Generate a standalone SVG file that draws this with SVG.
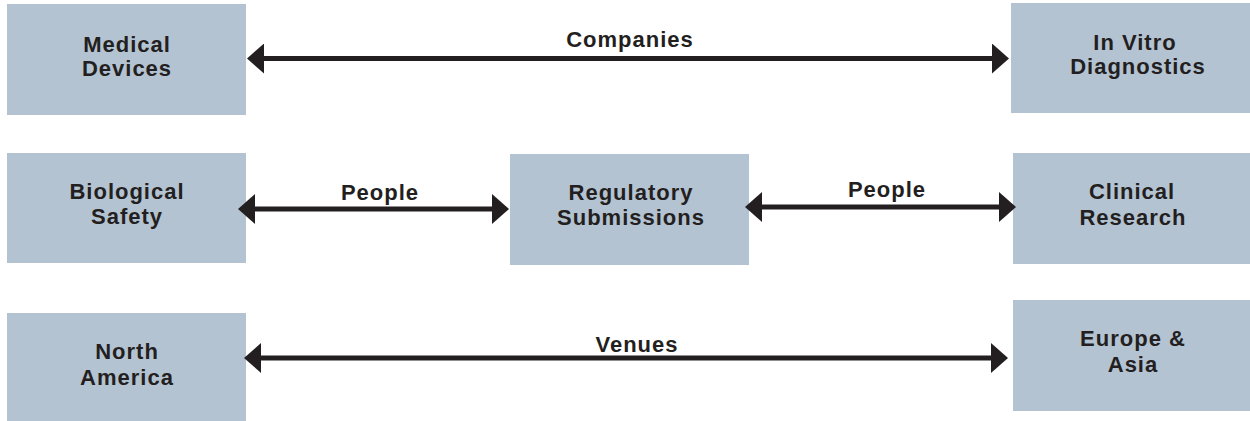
<svg xmlns="http://www.w3.org/2000/svg" width="1250" height="421" viewBox="0 0 1250 421">
<style>
.box{fill:#b4c3d2;}
.t{font-family:"Liberation Sans",Arial,sans-serif;font-weight:bold;font-size:22px;letter-spacing:1px;fill:#231f20;text-anchor:middle;}
.ln{stroke:#231f20;stroke-width:5;fill:none;}
</style>
<defs>
<marker id="ah" viewBox="0 0 17 30" refX="1" refY="15" markerWidth="17" markerHeight="30" markerUnits="userSpaceOnUse" orient="auto-start-reverse">
<path d="M0,0 L17,15 L0,30 Z" fill="#231f20"/>
</marker>
</defs>
<rect width="1250" height="421" fill="#ffffff"/>
<g id="medical-devices"><rect class="box" x="7" y="4" width="239" height="111"/><text class="t" x="127" y="51.5">Medical</text><text class="t" x="127" y="75.5">Devices</text></g>
<g id="in-vitro"><rect class="box" x="1011" y="3" width="239" height="110"/><text class="t" x="1135" y="49.5">In Vitro</text><text class="t" x="1138" y="73.5">Diagnostics</text></g>
<g id="biological-safety"><rect class="box" x="7" y="153" width="239" height="110"/><text class="t" x="127" y="199">Biological</text><text class="t" x="127" y="223.5">Safety</text></g>
<g id="regulatory"><rect class="box" x="510" y="154" width="239" height="111"/><text class="t" x="631" y="200">Regulatory</text><text class="t" x="631" y="225">Submissions</text></g>
<g id="clinical-research"><rect class="box" x="1013" y="153" width="237" height="111"/><text class="t" x="1132" y="199">Clinical</text><text class="t" x="1133" y="224.5">Research</text></g>
<g id="north-america"><rect class="box" x="7" y="313" width="239" height="108"/><text class="t" x="127" y="359">North</text><text class="t" x="127" y="385">America</text></g>
<g id="europe-asia"><rect class="box" x="1013" y="300" width="237" height="111"/><text class="t" x="1133" y="346">Europe &amp;</text><text class="t" x="1133" y="371.5">Asia</text></g>
<g id="connectors">
<line class="ln" x1="263" y1="58.5" x2="993" y2="58.5" marker-start="url(#ah)" marker-end="url(#ah)"/>
<text class="t" x="630" y="47">Companies</text>
<line class="ln" x1="254" y1="209" x2="493" y2="209" marker-start="url(#ah)" marker-end="url(#ah)"/>
<text class="t" x="380" y="200">People</text>
<line class="ln" x1="761" y1="207" x2="1000" y2="207" marker-start="url(#ah)" marker-end="url(#ah)"/>
<text class="t" x="887" y="197">People</text>
<line class="ln" x1="260" y1="358" x2="992" y2="358" marker-start="url(#ah)" marker-end="url(#ah)"/>
<text class="t" x="637" y="352">Venues</text>
</g>
</svg>
